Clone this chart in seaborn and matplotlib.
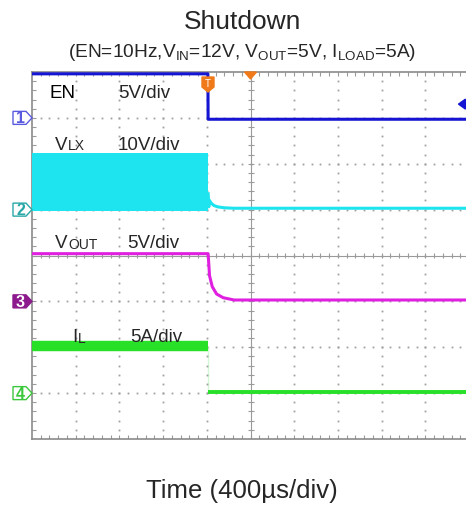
import numpy as np
import seaborn as sns
import matplotlib.pyplot as plt
from matplotlib.patches import Polygon

sns.set_theme(style="white")
plt.rcParams['font.family'] = ['Liberation Sans', 'DejaVu Sans']
plt.rcParams['mathtext.fontset'] = 'custom'
plt.rcParams['mathtext.rm'] = 'Liberation Sans'
plt.rcParams['lines.solid_capstyle'] = 'butt'

# time base: 400 us/div, 10 divisions
us_per_div = 400

# EN (ch1, 5V/div, ground at 7 div)
en_t = [0, 1610, 1612, 4000]
en_v = [4.8, 4.8, -0.15, -0.15]

# VLX (ch2, 10V/div, ground at 5 div) - switching block then decay
lx_on_t = [0, 1612]
lx_on_hi = [12.3, 12.3]
lx_on_lo = [-0.3, -0.3]
lx_off_t = [1612, 1618, 1625, 1640, 1665, 1700, 1760, 1850, 4000]
lx_off_v = [3.8, 0.6, 2.0, 1.4, 0.9, 0.6, 0.4, 0.3, 0.3]

# VOUT (ch3, 5V/div, ground at 3 div)
vo_t = [0, 1612, 1625, 1650, 1690, 1750, 1850, 4000]
vo_v = [5.2, 5.2, 2.8, 1.6, 0.8, 0.4, 0.15, 0.15]

# IL (ch4, 5A/div, ground at 1 div)
il_t = [0, 1612, 1614, 4000]
il_a = [5.1, 5.1, 0.1, 0.1]

ch_offset = {'EN': 7, 'LX': 5, 'VO': 3, 'IL': 1}
ch_scale = {'EN': 5, 'LX': 10, 'VO': 5, 'IL': 5}

c_en = '#1414d2'
c_lx = '#1de4ef'
c_vo = '#e020e0'
c_il = '#28e028'


def div(vals, ch):
    return [ch_offset[ch] + v / ch_scale[ch] for v in vals]


def tdiv(ts):
    return [t / us_per_div for t in ts]


fig = plt.figure(figsize=(4.66, 5.06), dpi=100)
ax = fig.add_axes([32 / 466, 1 - 440 / 506, 437 / 466, 367 / 506])
ax.set_xlim(0, 10)
ax.set_ylim(0, 8)
ax.set_xticks([])
ax.set_yticks([])
for s in ax.spines.values():
    s.set_color('#8a8a8a')
    s.set_linewidth(1.2)

px = 1 / 43.7
py = 1 / 45.9
gcol = '#a0a0a0'

# dotted grid
for gx in range(1, 10):
    if gx == 5:
        continue
    yy = np.arange(0.2, 8, 0.2)
    ax.plot([gx] * len(yy), yy, ls='none', marker='s', ms=1.3, color=gcol, mew=0)
for gy in range(1, 8):
    if gy == 4:
        continue
    xx = np.arange(0.2, 10, 0.2)
    ax.plot(xx, [gy] * len(xx), ls='none', marker='s', ms=1.3, color=gcol, mew=0)

# center lines with minor ticks
ax.axvline(5, color='#9a9a9a', lw=0.8)
ax.axhline(4, color='#9a9a9a', lw=0.8)
for yy in np.arange(0.2, 8, 0.2):
    ax.plot([5 - 3 * px, 5 + 3 * px], [yy, yy], color='#9a9a9a', lw=0.8)
for xx in np.arange(0.2, 10, 0.2):
    ax.plot([xx, xx], [4 - 3 * py, 4 + 3 * py], color='#9a9a9a', lw=0.8)
# frame ticks
for xx in np.arange(0.2, 10, 0.2):
    ax.plot([xx, xx], [8, 8 - 4 * py], color='#9a9a9a', lw=0.8)
    ax.plot([xx, xx], [0, 4 * py], color='#9a9a9a', lw=0.8)
for yy in np.arange(0.2, 8, 0.2):
    ax.plot([0, 4 * px], [yy, yy], color='#9a9a9a', lw=0.8)

# traces
ax.fill_between(tdiv(lx_on_t), div(lx_on_lo, 'LX'), div(lx_on_hi, 'LX'),
                color=c_lx, lw=0, zorder=3)
sns.lineplot(x=tdiv(lx_off_t), y=div(lx_off_v, 'LX'), ax=ax, color=c_lx,
             lw=2.2, sort=False, zorder=3)
sns.lineplot(x=tdiv(en_t), y=div(en_v, 'EN'), ax=ax, color=c_en,
             lw=2.2, sort=False, zorder=4)
sns.lineplot(x=tdiv(vo_t), y=div(vo_v, 'VO'), ax=ax, color=c_vo,
             lw=2.2, sort=False, zorder=4)
sns.lineplot(x=tdiv(il_t[:2]), y=div(il_a[:2], 'IL'), ax=ax, color=c_il,
             lw=7.5, sort=False, zorder=4)
sns.lineplot(x=tdiv([il_t[1], il_t[1]]), y=div([il_a[1], il_a[2]], 'IL'), ax=ax,
             color=c_il, lw=1.2, sort=False, zorder=4)
sns.lineplot(x=tdiv(il_t[2:]), y=div(il_a[2:], 'IL'), ax=ax, color=c_il,
             lw=2.8, sort=False, zorder=4)

# channel labels
fs = 13.5
ax.text(0.41, 7.56, 'EN', fontsize=fs, va='center', color='black', zorder=6)
ax.text(1.97, 7.56, '5V/div', fontsize=fs, va='center', zorder=6)
ax.text(0.53, 6.43, 'V', fontsize=fs, va='center', zorder=6)
ax.text(0.83, 6.40, 'LX', fontsize=10, va='center', zorder=6)
ax.text(1.95, 6.43, '10V/div', fontsize=fs, va='center', zorder=6)
ax.text(0.53, 4.29, 'V', fontsize=fs, va='center', zorder=6)
ax.text(0.83, 4.26, 'OUT', fontsize=10, va='center', zorder=6)
ax.text(2.17, 4.29, '5V/div', fontsize=fs, va='center', zorder=6)
ax.text(0.92, 2.24, 'I', fontsize=fs, va='center', zorder=6)
ax.text(1.05, 2.21, 'L', fontsize=10, va='center', zorder=6)
ax.text(2.24, 2.24, '5A/div', fontsize=fs, va='center', zorder=6)

# channel markers on the left
markers = [('1', 7, '#5a5ae0', False), ('2', 5, '#2aa8a8', False),
           ('3', 3, '#8c1a8c', True), ('4', 1, '#3cc83c', False)]
for lab, lev, col, filled in markers:
    pts = [(-19 * px, lev + 6.5 * py), (-6 * px, lev + 6.5 * py), (0, lev),
           (-6 * px, lev - 6.5 * py), (-19 * px, lev - 6.5 * py)]
    poly = Polygon(pts, closed=True, clip_on=False, lw=1.0, ec=col,
                   fc=col if filled else 'white', zorder=6)
    ax.add_patch(poly)
    ax.text(-11.5 * px, lev, lab, fontsize=11.5, fontweight='bold', ha='center',
            va='center', color='white' if filled else col, clip_on=False, zorder=7)

# trigger marker
tx = 1611 / us_per_div
tpts = [(tx - 6 * px, 8 - 5 * py), (tx + 6 * px, 8 - 5 * py), (tx + 6 * px, 8 - 15 * py),
        (tx, 8 - 20 * py), (tx - 6 * px, 8 - 15 * py)]
ax.add_patch(Polygon(tpts, closed=True, fc='#f07a1a', ec='#f07a1a', zorder=8))
ax.text(tx, 8 - 11 * py, 'T', fontsize=7, color='white', ha='center', va='center', zorder=9)
# horizontal position marker
ax.add_patch(Polygon([(5 - 6 * px, 8), (5 + 6 * px, 8), (5, 8 - 7 * py)], closed=True,
                     fc='#f07a1a', ec='#f07a1a', zorder=8, clip_on=False))
# trigger level marker
ax.add_patch(Polygon([(9.92, 7.3 + 5 * py), (9.92, 7.3 - 5 * py), (9.92 - 7 * px, 7.3)],
                     closed=True, fc=c_en, ec=c_en, zorder=8))

fig.text(0.52, 0.957, 'Shutdown', fontsize=19, ha='center', va='center')
fig.text(0.52, 0.897,
         r'(EN=10Hz,V$_{\mathregular{IN}}$=12V, V$_{\mathregular{OUT}}$=5V, '
         r'I$_{\mathregular{LOAD}}$=5A)',
         fontsize=13.8, ha='center', va='center')
fig.text(0.52, 0.030, 'Time (400µs/div)', fontsize=18.5, ha='center', va='center')

fig.savefig('out.png', dpi=100)
